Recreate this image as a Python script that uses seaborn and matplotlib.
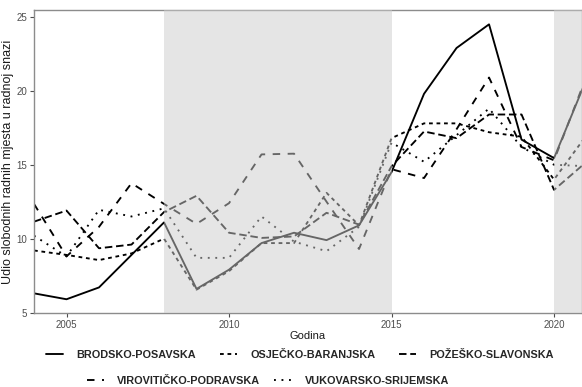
import matplotlib
matplotlib.use("Agg")
import matplotlib.pyplot as plt
from matplotlib.lines import Line2D
import numpy as np
import pandas as pd
import seaborn as sns

# Share of vacant jobs in the labour force, by county
years = list(range(2004, 2022))
brodsko_posavska = [6.3, 5.9, 6.7, 8.9, 11.1, 6.6, 7.9, 9.7, 10.4, 9.9, 10.9,
                    14.5, 19.8, 22.9, 24.5, 16.7, 15.45, 20.8]
osjecko_baranjska = [9.2, 8.9, 8.55, 9.0, 10.0, 6.55, 7.8, 9.7, 9.7, 13.1, 10.9,
                     16.8, 17.8, 17.8, 17.2, 16.9, 14.0, 17.0]
pozesko_slavonska = [11.15, 11.9, 9.35, 9.6, 11.8, 12.9, 10.4, 10.05, 10.15, 11.75, 10.95,
                     14.9, 17.25, 16.8, 18.4, 18.4, 13.3, 15.2]
viroviticko_podravska = [12.35, 8.8, 10.8, 13.75, 12.35, 11.0, 12.4, 15.7, 15.75, 12.5, 9.3,
                         14.7, 14.1, 17.4, 20.9, 16.2, 15.3, 21.0]
vukovarsko_srijemska = [10.2, 8.8, 11.95, 11.5, 12.05, 8.7, 8.7, 11.5, 9.8, 9.15, 10.8,
                        16.5, 15.2, 17.0, 18.8, 16.2, 15.0, 14.9]

regions = ["BRODSKO-POSAVSKA", "OSJEČKO-BARANJSKA", "POŽEŠKO-SLAVONSKA",
           "VIROVITIČKO-PODRAVSKA", "VUKOVARSKO-SRIJEMSKA"]
series = [brodsko_posavska, osjecko_baranjska, pozesko_slavonska,
          viroviticko_podravska, vukovarsko_srijemska]

# Recession periods shaded on the plot
recessions = [(2008, 2015), (2020, 2022)]

df = pd.DataFrame({
    "Godina": np.tile(years, len(regions)),
    "Udio": np.concatenate(series),
    "Županija": np.repeat(regions, len(years)),
})

dash_map = {
    "BRODSKO-POSAVSKA": "",
    "OSJEČKO-BARANJSKA": (2, 2),
    "POŽEŠKO-SLAVONSKA": (4, 2),
    "VIROVITIČKO-PODRAVSKA": (4, 4),
    "VUKOVARSKO-SRIJEMSKA": (1, 3),
}

sns.set_theme(style="white")
plt.rcParams["font.family"] = ["Liberation Sans", "DejaVu Sans"]

W, H = 582, 387
fig = plt.figure(figsize=(W / 100, H / 100), dpi=100)
ax = fig.add_axes([34 / W, 1 - 313 / H, 1 - 34 / W, (313 - 10) / H])

lw = 1.35
sns.lineplot(data=df, x="Godina", y="Udio", style="Županija", style_order=regions,
             dashes=dash_map, color="black", linewidth=lw, ax=ax, legend=False)

for start, end in recessions:
    ax.axvspan(start, end, color="#cccccc", alpha=0.5, lw=0, zorder=3)

ax.set_xlim(2004, 2020.86)
ax.set_ylim(4.97, 25.47)
ax.set_xticks([2005, 2010, 2015, 2020])
ax.set_yticks([5, 10, 15, 20, 25])
ax.tick_params(axis="both", labelsize=7, colors="#4d4d4d", length=3, width=0.8,
               direction="out", pad=2, left=True, bottom=True)
for sp in ax.spines.values():
    sp.set_color("#8c8c8c")
    sp.set_linewidth(1.0)
ax.set_xlabel("Godina", fontsize=8, color="#1a1a1a", labelpad=1)
ax.set_ylabel("Udio slobodnih radnih mjesta u radnoj snazi", fontsize=9,
              color="#1a1a1a")
ax.yaxis.set_label_coords((14 - 34) / (W - 34), 0.5)

def handle(name):
    d = dash_map[name]
    h = Line2D([0], [0], color="black", linewidth=lw)
    if d:
        h.set_dashes(d)
    return h

handles = [handle(r) for r in regions]
common = dict(loc="center", frameon=False, prop=dict(weight="bold", size=7.8),
              handlelength=1.6, handletextpad=1.2,
              borderaxespad=0, borderpad=0)
leg1 = fig.legend(handles[:3], regions[:3], ncol=3, columnspacing=2.2,
                  bbox_to_anchor=(300 / W, 1 - 355 / H), **common)
leg2 = fig.legend(handles[3:], regions[3:], ncol=2, columnspacing=1.3,
                  bbox_to_anchor=(268 / W, 1 - 381 / H), **common)

fig.savefig("out.png", dpi=100)
